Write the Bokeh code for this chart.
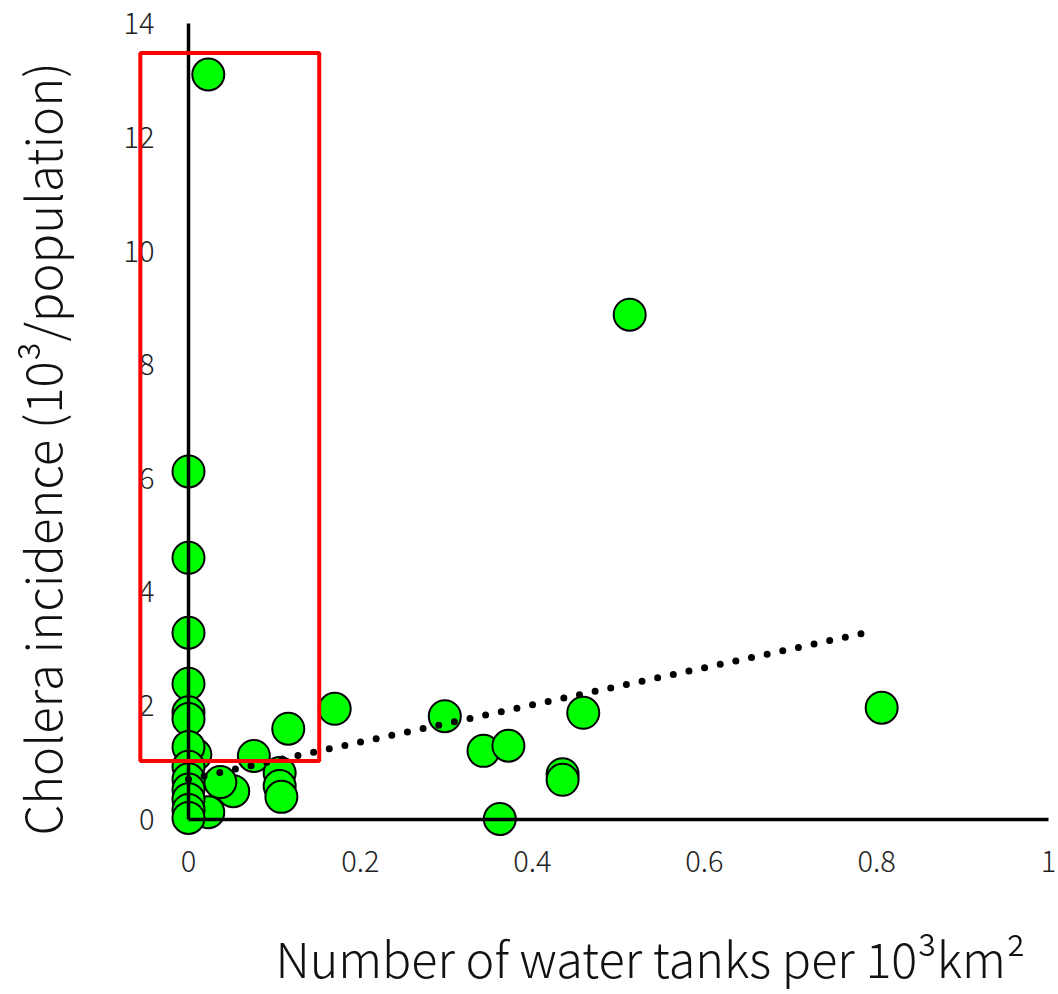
import math
from bokeh.plotting import figure
from bokeh.models import (FixedTicker, CustomJSTickFormatter, Label,
                          BoxAnnotation, ColumnDataSource, Range1d)
from bokeh.embed import file_html
from bokeh.resources import INLINE

# ---- data ----
tanks = [0.023, 0.513, 0.806, 0.298, 0.343, 0.372, 0.435, 0.435, 0.362, 0.459,
         0.170, 0.116, 0.076, 0.106, 0.106, 0.108, 0.052, 0.023, 0.037, 0.008,
         0.0, 0.0, 0.0, 0.0, 0.0, 0.0, 0.0, 0.0, 0.0, 0.0, 0.0, 0.0, 0.0]
incidence = [13.11, 8.88, 1.96, 1.81, 1.20, 1.29, 0.79, 0.69, 0.0, 1.87,
             1.94, 1.59, 1.11, 0.81, 0.58, 0.39, 0.49, 0.12, 0.65, 1.13,
             6.12, 4.60, 3.28, 2.38, 1.88, 1.76, 1.27, 0.92, 0.70, 0.52, 0.35, 0.16, 0.02]

trend_x = [0.0, 0.797]
trend_y = [0.70, 3.31]

x_ticks = [0, 0.2, 0.4, 0.6, 0.8, 1]
y_ticks = [0, 2, 4, 6, 8, 10, 12, 14]

highlight = dict(left=-0.056, right=0.152, bottom=1.02, top=13.49)

x_title = "Number of water tanks per 10³km²"
y_title = "Cholera incidence  (10³/population)"

FONT = "Noto Sans CJK JP Light"

# the plot frame fills the whole page; axes sit at x=0 / y=0 inside it
p = figure(width=1058, height=994, output_backend="svg", toolbar_location=None,
           x_range=Range1d(-0.2186, 1.0116), y_range=Range1d(-3.090, 14.413),
           min_border_left=0, min_border_right=0, min_border_top=0,
           min_border_bottom=0)
p.grid.visible = False
p.outline_line_color = None
p.background_fill_color = "white"
p.border_fill_color = "white"

for ax in (p.xaxis[0], p.yaxis[0]):
    ax.fixed_location = 0
    ax.axis_line_width = 3.5
    ax.axis_line_color = "black"
    ax.major_tick_line_color = None
    ax.minor_tick_line_color = None
    ax.major_label_text_font = FONT
    ax.major_label_text_font_size = "29px"
    ax.major_label_text_color = "#222222"
    ax.formatter = CustomJSTickFormatter(code="return String(tick)")

p.xaxis[0].ticker = FixedTicker(ticks=x_ticks)
p.xaxis[0].bounds = (0, 1)
p.xaxis[0].major_label_standoff = 26
p.yaxis[0].ticker = FixedTicker(ticks=y_ticks)
p.yaxis[0].bounds = (0, 14)
p.yaxis[0].major_label_standoff = 28

# axis titles (screen units, from the bottom-left corner of the page)
p.add_layout(Label(x=1025, y=38, x_units="screen", y_units="screen", text=x_title,
                   text_align="right", text_baseline="middle", text_font=FONT,
                   text_font_size="48.5px", text_color="#111111"))
p.add_layout(Label(x=40, y=551, x_units="screen", y_units="screen", text=y_title,
                   angle=math.pi / 2, text_align="center", text_baseline="middle",
                   text_font=FONT, text_font_size="49px", text_color="#111111"))

src = ColumnDataSource(dict(x=tanks, y=incidence))
p.scatter("x", "y", source=src, size=32, fill_color="#00FF00", line_color="black",
          line_width=2)

p.line(trend_x, trend_y, line_color="black", line_width=7, line_dash="0 16",
       line_cap="round")

p.add_layout(BoxAnnotation(fill_alpha=0, line_color="#FF0000", line_alpha=1.0,
                           line_width=4, **highlight))

open("out.html", "w").write(file_html(p, INLINE))
